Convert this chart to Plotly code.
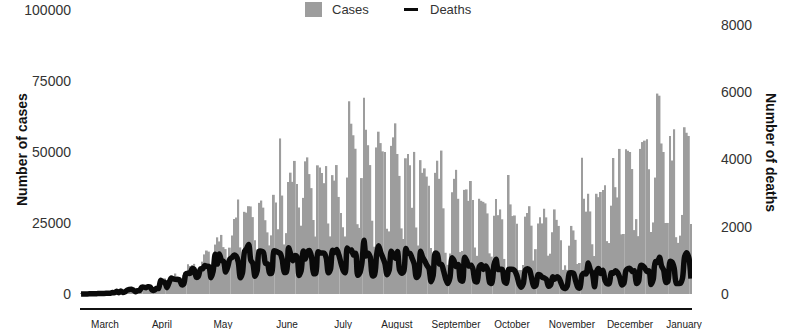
import plotly.graph_objects as go

# Daily values, 16 March 2020 -> 1 January 2021 (one entry per day)
cases = [
    34, 57, 137, 193, 283, 224, 418,
    345, 310, 232, 482, 502, 487, 352,
    323, 1138, 1119, 1074, 1146, 1222, 852,
    926, 1661, 2210, 1930, 1781, 1089, 1442,
    1261, 1832, 3058, 2105, 3257, 2917, 2055,
    1927, 2498, 2678, 3735, 3503, 5514, 3379,
    4613, 5385, 6276, 7218, 6209, 4970, 4588,
    6633, 6935, 10503, 9888, 10222, 10611, 6760,
    5632, 9258, 11385, 13944, 15305, 14919, 7938,
    13140, 17408, 19951, 18508, 20803, 16508, 15813,
    11687, 16324, 20599, 26417, 26928, 33274, 16409,
    11598, 28936, 28633, 30925, 30830, 27075, 18912,
    15654, 32091, 32913, 30412, 25982, 21704, 17110,
    20647, 34918, 32188, 22765, 54771, 34666, 17459,
    21432, 39436, 42725, 39483, 46860, 38693, 30476,
    24052, 33846, 46712, 48105, 42223, 37279, 26051,
    20229, 45305, 44571, 42619, 39023, 45048, 24831,
    20286, 41857, 39924, 45403, 34177, 28532, 23529,
    20257, 41008, 67860, 59961, 55891, 51147, 24578,
    23284, 40816, 69074, 57837, 52383, 45392, 25800,
    16641, 51603, 57152, 53139, 50230, 49970, 23010,
    22048, 52160, 55155, 60091, 49298, 41576, 23101,
    19373, 47784, 49298, 45323, 30355, 50032, 23421,
    17078, 47134, 42659, 44235, 41350, 38101, 16158,
    12386, 42659, 46934, 40557, 50500, 30168, 14521,
    10273, 14279, 35816, 40557, 43718, 33523, 14768,
    15155, 36653, 36820, 32793, 39797, 33057, 16389,
    13439, 33536, 32817, 32445, 31911, 28378, 14318,
    13155, 27544, 33413, 27750, 29777, 26310, 12345,
    8456, 41906, 31553, 27444, 27651, 24699, 8430,
    8426, 10220, 27235, 28523, 30914, 24062, 11783,
    15783, 24818, 26981, 24858, 30026, 26979, 13493,
    14194, 21745, 29787, 26106, 23976, 18947, 8501,
    10100, 8501, 17012, 23976, 22380, 19062, 10554,
    10917, 48000, 33500, 29000, 35294, 29070, 17512,
    13371, 35294, 34091, 35918, 36600, 38307, 18615,
    17945, 31100, 47898, 37614, 34000, 51088, 21000,
    21138, 51000, 50434, 50000, 44000, 22500, 26363,
    20371, 51088, 53500, 54000, 54500, 43900, 21825,
    25193, 41000, 70574, 69826, 53000, 50000, 25000,
    25019, 55600, 47000, 58000, 20000, 18000, 20548,
    27834, 58718, 56773, 55649, 24605,
]

deaths = [
    0, 1, 3, 3, 4, 7, 7,
    9, 12, 13, 18, 15, 19, 25,
    23, 42, 39, 84, 35, 86, 41,
    67, 114, 133, 141, 115, 68, 99,
    105, 204, 204, 188, 217, 206, 115,
    113, 166, 165, 407, 357, 346, 189,
    338, 474, 449, 435, 428, 421, 275,
    296, 600, 615, 610, 751, 730, 496,
    530, 747, 749, 844, 824, 816, 485,
    674, 1179, 888, 1188, 1001, 965, 653,
    807, 1039, 1086, 1156, 1124, 956, 480,
    623, 1262, 1349, 1473, 1005, 904, 525,
    679, 1272, 1274, 1239, 909, 892, 612,
    627, 1282, 1269, 1238, 1206, 1022, 641,
    654, 1374, 1185, 990, 1141, 1109, 552,
    692, 1280, 1038, 1252, 1290, 1091, 602,
    620, 1254, 1223, 1220, 1214, 1071, 631,
    733, 1300, 1233, 1322, 1163, 921, 716,
    632, 1367, 1284, 1311, 1156, 1211, 555,
    627, 921, 1595, 1129, 1212, 1088, 541,
    561, 1154, 1437, 1237, 1079, 905, 572,
    703, 1274, 1175, 1060, 1262, 709, 620,
    684, 1352, 1212, 1204, 1054, 892, 494,
    555, 1271, 1085, 984, 855, 758, 366,
    553, 1215, 1184, 888, 874, 682, 447,
    310, 476, 1075, 983, 814, 874, 415,
    381, 1090, 987, 829, 858, 739, 377,
    363, 809, 869, 729, 831, 728, 335,
    317, 863, 1031, 729, 732, 728, 363,
    323, 734, 734, 730, 686, 538, 301,
    201, 309, 716, 754, 711, 461, 230,
    253, 571, 566, 497, 474, 432, 231,
    263, 510, 440, 510, 476, 333, 190,
    162, 244, 626, 631, 611, 385, 202,
    181, 564, 615, 599, 921, 713, 606,
    216, 676, 754, 611, 705, 402, 302,
    314, 630, 620, 691, 638, 495, 272,
    317, 697, 755, 755, 667, 694, 313,
    376, 842, 842, 770, 672, 686, 279,
    433, 964, 936, 1092, 823, 706, 347,
    377, 968, 943, 766, 314, 314, 320,
    482, 1111, 1224, 1074, 462,
]

day_index = list(range(len(cases)))

month_labels = ["March", "April", "May", "June", "July", "August",
                "September", "October", "November", "December", "January"]
month_label_pos = [11.4, 38.6, 67.7, 98.3, 125.0, 150.7, 178.9, 205.6, 234.2, 261.9, 287.7]

left_ticks = [0, 25000, 50000, 75000, 100000]
right_ticks = [0, 2000, 4000, 6000, 8000]

BAR_COLOR = "#9d9d9d"
LINE_COLOR = "#0a0a0a"
TEXT_COLOR = "#333333"

W, H = 788, 329
ML, MR, MT, MB = 80, 96, 0, 21
PW, PH = W - ML - MR, H - MT - MB


def px(xp):
    """page x pixel -> paper fraction"""
    return (xp - ML) / PW


def py(yp):
    """page y pixel -> paper fraction"""
    return (H - MB - yp) / PH


fig = go.Figure()
fig.add_trace(go.Bar(
    x=day_index, y=cases, name="Cases",
    marker=dict(color=BAR_COLOR, line=dict(width=0)),
    yaxis="y",
))
fig.add_trace(go.Scatter(
    x=day_index, y=deaths, name="Deaths", mode="lines",
    line=dict(color=LINE_COLOR, width=5.5, shape="spline", smoothing=0.8),
    yaxis="y2",
))

fig.update_layout(
    width=W, height=H,
    margin=dict(l=ML, r=MR, t=MT, b=MB),
    paper_bgcolor="white", plot_bgcolor="white",
    bargap=0.12,
    font=dict(family="Liberation Sans, Arial, sans-serif", color=TEXT_COLOR),
    showlegend=False,
    xaxis=dict(
        range=[-0.5, len(cases) - 0.5],
        tickmode="array", tickvals=month_label_pos, ticktext=month_labels,
        tickfont=dict(size=10, color="#222222"),
        showline=True, linecolor="#111111", linewidth=1.5,
        showgrid=False, zeroline=False, ticks="", ticklabelstandoff=6,
        automargin=False,
    ),
    yaxis=dict(
        domain=[0, py(10)],
        range=[-4930, 100000],
        tickmode="array", tickvals=left_ticks, ticktext=[str(v) for v in left_ticks],
        tickfont=dict(size=14, color=TEXT_COLOR),
        showgrid=False, zeroline=False, showline=False, ticks="",
        ticklabelstandoff=8, automargin=False,
    ),
    yaxis2=dict(
        range=[-416, 8440], overlaying="y", side="right",
        tickmode="array", tickvals=right_ticks, ticktext=[str(v) for v in right_ticks],
        tickfont=dict(size=14, color=TEXT_COLOR),
        showgrid=False, zeroline=False, showline=False, ticks="",
        ticklabelstandoff=28, automargin=False,
    ),
    annotations=[
        dict(text="<b>Number of cases</b>", textangle=-90, xref="paper", yref="paper",
             x=px(12), y=py(150), showarrow=False,
             font=dict(size=14, color="#111111")),
        dict(text="<b>Number of deaths</b>", textangle=90, xref="paper", yref="paper",
             x=px(781), y=py(152), showarrow=False,
             font=dict(size=14, color="#111111")),
        dict(text="Cases", xref="paper", yref="paper", x=px(330), y=py(9.5),
             xanchor="left", yanchor="middle", showarrow=False,
             font=dict(size=13, color=TEXT_COLOR)),
        dict(text="Deaths", xref="paper", yref="paper", x=px(428), y=py(9.5),
             xanchor="left", yanchor="middle", showarrow=False,
             font=dict(size=13, color=TEXT_COLOR)),
    ],
    shapes=[
        dict(type="rect", xref="paper", yref="paper",
             x0=px(305), x1=px(322), y0=py(17), y1=py(2),
             fillcolor=BAR_COLOR, line=dict(width=0)),
        dict(type="line", xref="paper", yref="paper",
             x0=px(404), x1=px(418), y0=py(9.5), y1=py(9.5),
             line=dict(color=LINE_COLOR, width=3)),
    ],
)

# remove the browser's default 8 px body margin so the figure sits at (0, 0)
fig.write_html(
    "out.html",
    config={"displayModeBar": False},
    post_script="document.body.style.margin='0px';document.body.style.overflow='hidden';",
)
